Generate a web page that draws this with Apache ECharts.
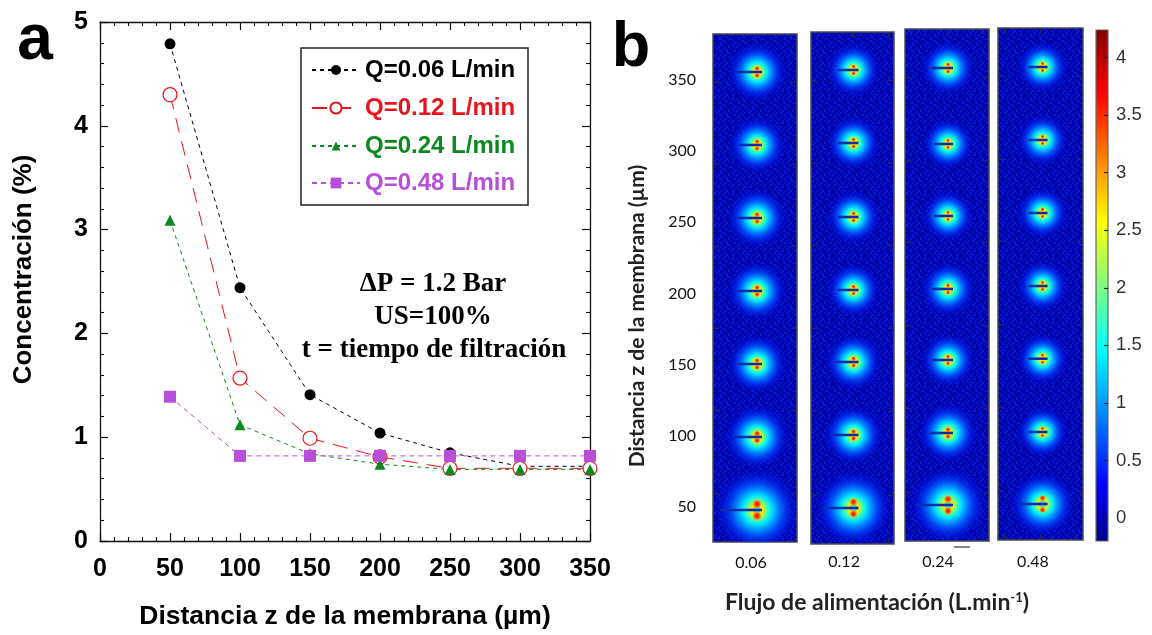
<!DOCTYPE html>
<html><head><meta charset="utf-8">
<style>html,body{margin:0;padding:0;background:#fff}#c{width:1152px;height:635px}</style>
<script src="https://cdn.jsdelivr.net/npm/echarts@6/dist/echarts.min.js"></script>
</head><body><div id="c"></div>
<script>
// ---- panel a data
const distancia = [50,100,150,200,250,300,350];
const q006 = [4.79,2.44,1.41,1.04,0.85,0.72,0.72];
const q012 = [4.30,1.57,0.99,0.81,0.70,0.70,0.70];
const q024 = [3.09,1.12,0.84,0.74,0.69,0.69,0.69];
const q048 = [1.39,0.82,0.82,0.82,0.82,0.82,0.82];
// ---- panel b data
const flujoLabels = ['0.06','0.12','0.24','0.48'];
const zLabels = [50,100,150,200,250,300,350];
const cbLabels = [0,0.5,1,1.5,2,2.5,3,3.5,4];
const spotZ1 = [355.6,304.3,253.0,201.7,150.4,99.1,47.8];
const spotZ2 = [357.0,305.7,253.7,202.4,151.8,100.5,49.2];
const spotZ3 = [358.4,305.0,254.4,203.1,153.2,101.9,51.3];
const spotZ4 = [359.1,307.8,256.5,205.2,154.1,102.6,52.0];
const peak1 = [3.3,3.2,3.3,3.3,3.3,3.5,4.2];
const peak2 = [3.1,3.1,3.1,3.1,3.2,3.3,3.9];
const peak3 = [3.1,3.0,3.0,3.1,3.1,3.3,3.9];
const peak4 = [3.0,3.0,3.0,3.0,3.0,3.0,3.5];

const zip = (xs, ys) => xs.map((x,i)=>[x,ys[i]]);
const SANS='"Liberation Sans",Arial,sans-serif', SERIF='"Liberation Serif",serif', LATO='Lato,sans-serif';

// background grain of the detector images: a hand-set repeating tile
const grainRows=['0120130210312021','2013021203102130','1202301120230102','0311020231012310','1023102013201021','2101320120310203','0230112032012130','3102021301203012','1021303102120201','0213010230131023','2301202112023110','1120131020310202','0312021203102131','2011302310210320','1203120102301012','0120213021130231'];
const grainColors=['#00009a','#0006b0','#000ec4','#0418dc'];
const tile=document.createElement('canvas');tile.width=tile.height=32;
(()=>{const c=tile.getContext('2d');grainRows.forEach((r,j)=>[...r].forEach((d,i)=>{c.fillStyle=grainColors[+d];c.fillRect(i*2,j*2,2,2);}));})();

const grid=[{left:100,top:22,width:490,height:520}];
const xAxis=[], yAxis=[], series=[];
const tickBase={show:true,inside:true,length:8,lineStyle:{color:'#111',width:1.2}};
const minorBase={show:true,splitNumber:5,length:4,lineStyle:{color:'#111',width:1.1}};
const lineBase={show:true,onZero:false,lineStyle:{color:'#111',width:1.3}};
const tickFont={color:'#000',fontFamily:SANS,fontWeight:'bold',fontSize:25};
xAxis.push({type:'value',gridIndex:0,min:0,max:350,interval:50,position:'bottom',splitLine:{show:false},axisLine:lineBase,axisTick:tickBase,minorTick:minorBase,
  axisLabel:{...tickFont,margin:16,showMaxLabel:true},
  name:'Distancia z de la membrana (µm)',nameLocation:'middle',nameGap:62,nameTextStyle:{color:'#000',fontFamily:SANS,fontWeight:'bold',fontSize:26.5}});
xAxis.push({type:'value',gridIndex:0,min:0,max:350,interval:50,position:'top',splitLine:{show:false},axisLine:lineBase,axisTick:tickBase,minorTick:minorBase,axisLabel:{show:false}});
yAxis.push({type:'value',gridIndex:0,min:0,max:5,interval:1,position:'left',splitLine:{show:false},axisLine:lineBase,axisTick:tickBase,minorTick:minorBase,
  axisLabel:{...tickFont,margin:12},
  name:'Concentración (%)',nameLocation:'middle',nameGap:63,nameRotate:90,nameTextStyle:{color:'#000',fontFamily:SANS,fontWeight:'bold',fontSize:26,padding:[0,0,0,24]}});
yAxis.push({type:'value',gridIndex:0,min:0,max:5,interval:1,position:'right',splitLine:{show:false},axisLine:lineBase,axisTick:tickBase,minorTick:minorBase,axisLabel:{show:false}});

const curves=[
 {name:'Q=0.06 L/min',data:q006,color:'#000000',symbol:'circle',size:11,dash:[4,4],iconH:12.5,rowY:70,fill:'#000000'},
 {name:'Q=0.12 L/min',data:q012,color:'#e8141c',symbol:'circle',size:14,dash:[15,9],iconH:14,rowY:108,fill:'#ffffff'},
 {name:'Q=0.24 L/min',data:q024,color:'#0a8a1e',symbol:'triangle',size:11,dash:[4,4],iconH:11,rowY:146,fill:'#0a8a1e'},
 {name:'Q=0.48 L/min',data:q048,color:'#b84fd8',symbol:'rect',size:12,dash:[5,4],iconH:13.5,rowY:183,fill:'#b84fd8'}
];
curves.forEach(c=>series.push({type:'line',name:c.name,xAxisIndex:0,yAxisIndex:0,data:zip(distancia,c.data),
  symbol:c.symbol,symbolSize:c.size,showAllSymbol:true,clip:false,silent:true,
  lineStyle:{color:c.color,width:1,type:c.dash},
  itemStyle:{color:c.fill,borderColor:c.color,borderWidth:c.fill==='#ffffff'?1.2:0,opacity:1}}));
const legend=curves.map(c=>({show:true,data:[c.name],left:311,top:c.rowY-13,padding:0,itemWidth:48,itemHeight:c.iconH,selectedMode:false,
  textStyle:{color:c.color,fontFamily:SANS,fontWeight:'bold',fontSize:24,lineHeight:26}}));

// ---- panel b: z(px) is a shared scale, each image sits at its own offset
const panels=[
 {left:713,top:34,w:84,h:508,zmax:382.3,zmin:25.3,z:spotZ1,p:peak1,sx:2,lx:-4,lm:13},
 {left:811,top:32,w:83,h:512,zmax:383.7,zmin:23.9,z:spotZ2,p:peak2,sx:1,lx:-8.5,lm:10},
 {left:905,top:29,w:84,h:512,zmax:385.8,zmin:26.0,z:spotZ3,p:peak3,sx:1,lx:-9,lm:13},
 {left:998,top:28,w:85,h:512,zmax:386.5,zmin:26.7,z:spotZ4,p:peak4,sx:2,lx:-7.5,lm:14}
];
const dim={show:true,inside:true,length:6,lineStyle:{color:'#2a2a50',width:1.2}};
const glow={type:'radial',x:.5,y:.5,r:.5,colorStops:[
 {offset:0,color:'#ffe000'},{offset:.13,color:'#ffe800'},{offset:.22,color:'#60ff90'},{offset:.33,color:'#00e8ff'},
 {offset:.47,color:'#0090ff'},{offset:.64,color:'rgba(0,70,250,.85)'},{offset:.82,color:'rgba(0,30,235,.45)'},{offset:1,color:'rgba(0,10,220,0)'}]};
const hot={type:'radial',x:.5,y:.5,r:.5,colorStops:[{offset:0,color:'#e80000'},{offset:.55,color:'#ff6000'},{offset:1,color:'rgba(255,190,0,0)'}]};
const spike={type:'radial',x:.5,y:.5,r:.5,colorStops:[{offset:0,color:'#a0ff90'},{offset:.5,color:'rgba(0,230,255,.85)'},{offset:1,color:'rgba(0,120,255,0)'}]};
panels.forEach((P,k)=>{
  const g=grid.length; grid.push({left:P.left,top:P.top,width:P.w,height:P.h,show:true,backgroundColor:{image:tile,repeat:'repeat'},borderColor:'#4a4a55',borderWidth:1.5});
  const xi=xAxis.length, yi=yAxis.length;
  const zAt=f=>P.zmax-f*(P.zmax-P.zmin);
  const yt=[.0945,.256,.417,.579,.74,.905].map(zAt);
  const ix=(pos,extra)=>({type:'value',gridIndex:g,min:-42,max:42,position:pos,splitLine:{show:false},axisLine:{show:false,onZero:false},
    axisTick:{...dim,customValues:[-36,0,36]},axisLabel:{show:false},...extra});
  xAxis.push(ix('bottom',{axisLabel:{show:true,customValues:[P.lx],formatter:()=>flujoLabels[k],color:'#111',fontFamily:LATO,fontSize:16,margin:P.lm}}));
  xAxis.push(ix('top',{}));
  const iy=(pos,extra)=>({type:'value',gridIndex:g,min:P.zmin,max:P.zmax,position:pos,splitLine:{show:false},axisLine:{show:false,onZero:false},
    axisTick:{...dim,customValues:yt},axisLabel:{show:false},...extra});
  yAxis.push(iy('left',k===0?{axisLabel:{show:true,customValues:zLabels,color:'#111',fontFamily:LATO,fontSize:16,margin:17},
     name:'Distancia z de la membrana (µm)',nameLocation:'middle',nameGap:65,nameRotate:90,nameTextStyle:{color:'#222',fontFamily:LATO,fontWeight:'bold',fontSize:21,padding:[0,56,0,0]}}:{}));
  yAxis.push(iy('right',{}));
  const W=v=>29*v-36;
  const base={type:'scatter',xAxisIndex:xi,yAxisIndex:yi,silent:true,animation:false};
  const dat=P.z.map((z,i)=>[P.sx,z,P.p[i]]);
  series.push({type:'custom',name:'halo'+k,xAxisIndex:xi,yAxisIndex:yi,coordinateSystem:'cartesian2d',clip:true,silent:true,z:3,animation:false,
    encode:{x:0,y:1},data:dat,
    renderItem:(params,api)=>{const c=api.coord([api.value(0),api.value(1)]);const w=W(api.value(2));const tall=api.value(1)<70;
      return {type:'ellipse',shape:{cx:c[0],cy:c[1],rx:w/2,ry:(tall?w*1.45:w)/2},style:{fill:glow}};}});
  series.push({type:'custom',name:'spike'+k,xAxisIndex:xi,yAxisIndex:yi,coordinateSystem:'cartesian2d',clip:true,silent:true,z:4,animation:false,
    encode:{x:0,y:1},data:dat.filter(d=>d[1]<70),
    renderItem:(params,api)=>{const c=api.coord([api.value(0),api.value(1)]);
      return {type:'ellipse',shape:{cx:c[0],cy:c[1],rx:4.5,ry:42},style:{fill:spike}};}});
  [-1,1].forEach(s=>series.push({...base,name:'hot'+k+s,z:5,itemStyle:{color:hot,opacity:1},
    data:P.z.map((z,i)=>({value:[P.sx,z],symbolSize:(P.p[i]-2.2)*5,symbolOffset:[0,s*(z<70?6:3.5)]}))}));
  series.push({...base,name:'stop'+k,z:6,symbol:'rect',itemStyle:{color:'#0a2cb0',opacity:1},
    data:P.z.map((z,i)=>{const L=19*P.p[i]-38;return {value:[P.sx,z],symbolSize:[L,2.6],symbolOffset:[5-L/2,0]};})});
});

// ---- colour bar
const cbG=grid.length;
grid.push({left:1096,top:30,width:12,height:511,show:true,borderColor:'#666',borderWidth:1.2,
  backgroundColor:{type:'linear',x:0,y:1,x2:0,y2:0,colorStops:[
   {offset:0,color:'#000087'},{offset:.11,color:'#0000ff'},{offset:.375,color:'#00ffff'},{offset:.625,color:'#ffff00'},{offset:.875,color:'#ff0000'},{offset:1,color:'#800000'}]}});
xAxis.push({type:'value',gridIndex:cbG,min:0,max:1,show:false});
yAxis.push({type:'value',gridIndex:cbG,min:-0.2,max:4.24,position:'right',splitLine:{show:false},axisLine:{show:false,onZero:false},
  axisTick:{show:true,inside:true,length:4,customValues:cbLabels,lineStyle:{color:'#222',width:1.2}},
  axisLabel:{customValues:cbLabels,color:'#333',fontFamily:SANS,fontSize:18.5,margin:8}});

const serif='bold 27px "Liberation Serif",serif';
const graphic=[
 {type:'rect',z:40,silent:true,shape:{x:301,y:48,width:227,height:157},style:{fill:'rgba(0,0,0,0)',stroke:'#222',lineWidth:1.5}},
 {type:'text',z:50,silent:true,x:35,y:41,style:{text:'a',font:'bold 64px '+SANS,fill:'#000',align:'center',verticalAlign:'middle'}},
 {type:'text',z:50,silent:true,x:631,y:49,style:{text:'b',font:'bold 63px '+SANS,fill:'#000',align:'center',verticalAlign:'middle'}},
 {type:'text',z:50,silent:true,x:433,y:284,style:{text:'ΔP = 1.2 Bar',font:serif,fill:'#000',align:'center',verticalAlign:'middle'}},
 {type:'text',z:50,silent:true,x:433,y:317,style:{text:'US=100%',font:serif,fill:'#000',align:'center',verticalAlign:'middle'}},
 {type:'text',z:50,silent:true,x:434,y:350,style:{text:'t = tiempo de filtración',font:serif,fill:'#000',align:'center',verticalAlign:'middle'}},
 {type:'text',z:50,silent:true,x:877,y:603,style:{rich:{n:{font:'bold 23px '+LATO,fill:'#222'},s:{font:'bold 13px '+LATO,fill:'#222',verticalAlign:'top',padding:[0,0,8,0]}},text:'{n|Flujo de alimentación (L.min}{s|-1}{n|)}',align:'center',verticalAlign:'middle'}},
 {type:'line',z:50,silent:true,shape:{x1:954,y1:547,x2:970,y2:547},style:{stroke:'#111',lineWidth:1}}
];

const chart=echarts.init(document.getElementById('c'),null,{renderer:'canvas'});
chart.setOption({animation:false,backgroundColor:'#ffffff',grid,xAxis,yAxis,series,legend,graphic,tooltip:{show:false}});
</script></body></html>
